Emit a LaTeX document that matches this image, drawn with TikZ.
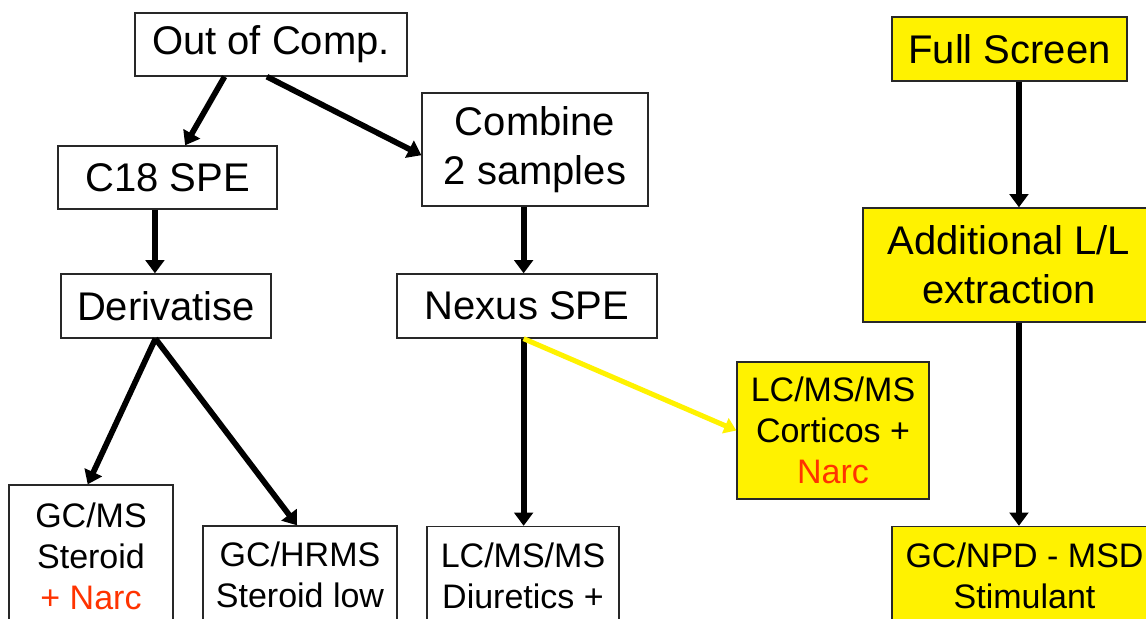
\documentclass[tikz,border=0pt]{standalone}
\usepackage{fontspec}
\setmainfont{Liberation Sans}
\usetikzlibrary{arrows.meta,calc}
\definecolor{narc}{RGB}{255,51,0}
\definecolor{boxline}{RGB}{40,40,40}
\tikzset{
  box/.style={draw=boxline, line width=1pt, fill=white, align=center, inner sep=0pt},
  ybox/.style={box, fill=yellow},
  big/.style={font=\fontsize{30}{36.5}\selectfont},
  small/.style={font=\fontsize{25.5}{30.7}\selectfont},
  arr/.style={line width=4.3pt, -{Triangle[length=10pt,width=14pt]}},
  yarr/.style={line width=3.8pt, draw=yellow, -{Triangle[length=9pt,width=12pt]}, color=yellow}
}
\begin{document}
\begin{tikzpicture}[x=0.75pt,y=-0.75pt]
\useasboundingbox (0,0) rectangle (1146,618);
\clip (0,0) rectangle (1146,618);
\fill[white] (0,0) rectangle (1146,618);

\node[box,big,minimum width=204pt,minimum height=47.25pt] (out) at (271,44.5) {\raisebox{-2pt}{Out of Comp.}};
\node[box,big,minimum width=164.25pt,minimum height=47.25pt] (c18) at (167.5,177.5) {C18 SPE};
\node[box,big,minimum width=169.5pt,minimum height=84.75pt] (comb) at (535,149.5) {Combine\\2 samples};
\node[box,big,minimum width=157.5pt,minimum height=48pt] (deriv) at (166,306) {Derivatise};
\node[box,big,minimum width=195pt,minimum height=48pt] (nexus) at (527,306) {Nexus SPE};
\node[ybox,small,minimum width=144pt,minimum height=102.75pt] (cort) at (833,430.5) {LC/MS/MS\\Corticos +\\\textcolor{narc}{Narc}};
\node[ybox,big,minimum width=176.25pt,minimum height=48pt] (full) at (1009.5,49) {Full Screen};
\node[ybox,big,minimum width=219pt,minimum height=85.5pt] (addl) at (1009,265) {Additional L/L\\extraction};
\node[box,small,minimum width=123pt,minimum height=106.5pt] (gcms) at (91,556) {GC/MS\\Steroid\\\textcolor{narc}{+ Narc}};
\node[box,small,minimum width=145.5pt,minimum height=73.5pt] (gchrms) at (300,575) {GC/HRMS\\Steroid low};
\node[box,small,minimum width=144pt,minimum height=73.5pt] (diur) at (523,575.5) {LC/MS/MS\\Diuretics +};
\node[ybox,small,minimum width=199pt,minimum height=73.5pt] (gcnpd) at (1024.5,575.5) {GC/NPD - MSD\\Stimulant};

% connectors
\coordinate (o1) at ($(out.south west)!0.33!(out.south east)$);
\coordinate (o2) at ($(out.south west)!0.485!(out.south east)$);
\draw[arr] (o1) -- ($(c18.north west)!0.58!(c18.north east)$);
\draw[arr] (o2) -- ($(comb.north west)!0.55!(comb.south west)$);

\coordinate (c1) at ($(c18.south west)!0.443!(c18.south east)$);
\draw[arr] (c1) -- (c1 |- deriv.north);

\coordinate (d1) at ($(deriv.south west)!0.45!(deriv.south east)$);
\draw[arr] (d1) -- ($(gcms.north west)!0.48!(gcms.north east)$);
\draw[arr] (d1) -- ($(gchrms.north west)!0.485!(gchrms.north east)$);

\coordinate (m1) at ($(comb.south west)!0.45!(comb.south east)$);
\draw[arr] (m1) -- (m1 |- nexus.north);

\coordinate (n1) at (m1 |- nexus.south);
\draw[arr] (n1) -- (n1 |- diur.north);
\draw[yarr] (n1) -- (cort.west);

\coordinate (f1) at ($(full.south west)!0.54!(full.south east)$);
\draw[arr] (f1) -- (f1 |- addl.north);
\coordinate (a1) at (f1 |- addl.south);
\draw[arr] (a1) -- (a1 |- gcnpd.north);
\end{tikzpicture}
\end{document}
